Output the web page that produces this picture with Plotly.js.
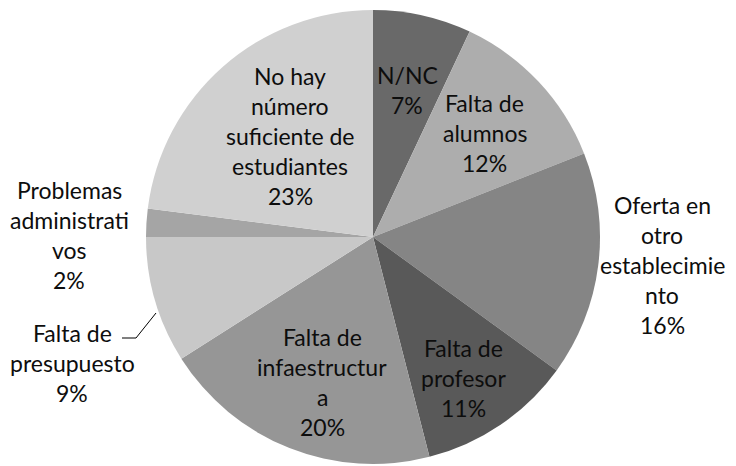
<!DOCTYPE html>
<html><head><meta charset="utf-8">
<script src="https://cdn.plot.ly/plotly-3.0.1.min.js"></script>
<style>html,body{margin:0;padding:0;background:#fff;}#c{width:736px;height:466px;}</style>
</head><body><div id="c"></div>
<script>
// Data
const categories = ["N/NC", "Falta de alumnos", "Oferta en otro establecimiento", "Falta de profesor", "Falta de infaestructura", "Falta de presupuesto", "Problemas administrativos", "No hay número suficiente de estudiantes"];
const values = [7, 12, 16, 11, 20, 9, 2, 23];
// Wrapped label text as in the original
const labelLines = [
  ["N/NC"],
  ["Falta de", "alumnos"],
  ["Oferta en", "otro", "establecimie", "nto"],
  ["Falta de", "profesor"],
  ["Falta de", "infaestructur", "a"],
  ["Falta de", "presupuesto"],
  ["Problemas", "administrati", "vos"],
  ["No hay", "número", "suficiente de", "estudiantes"]
];
const colors = ["#696969", "#adadad", "#858585", "#595959", "#969696", "#c8c8c8", "#a5a5a5", "#d0d0d0"];

// Layout (pixel positions of label blocks: center x, first line y)
const W = 736, H = 466;
const labelPos = [[407, 75], [485, 103], [662, 205], [463, 348], [322, 337], [72, 333], [69, 190], [290, 76]];
const lineGap = 30;
const FONT = "Lato, 'Open Sans', sans-serif";

const total = values.reduce((a, b) => a + b, 0);
const annotations = [];
categories.forEach((c, i) => {
  const lines = labelLines[i].concat([Math.round(values[i] / total * 100) + "%"]);
  lines.forEach((t, k) => {
    annotations.push({
      xref: "paper", yref: "paper",
      x: labelPos[i][0] / W, y: 1 - (labelPos[i][1] + k * lineGap) / H,
      xanchor: "center", yanchor: "middle",
      text: t, showarrow: false,
      font: {family: FONT, size: 23, color: "#0d0d0d"}
    });
  });
});

const cx = 373, cy = 237, r = 227;
const trace = {
  type: "pie",
  labels: categories,
  values: values,
  sort: false,
  direction: "clockwise",
  rotation: 0,
  marker: {colors: colors, line: {width: 0}},
  textinfo: "none",
  hoverinfo: "label+percent",
  domain: {x: [(cx - r) / W, (cx + r) / W], y: [1 - (cy + r) / H, 1 - (cy - r) / H]}
};

const layout = {
  width: W, height: H,
  margin: {l: 0, r: 0, t: 0, b: 0},
  showlegend: false,
  paper_bgcolor: "#fff",
  annotations: annotations,
  shapes: [{
    type: "path", xref: "paper", yref: "paper",
    path: "M " + (122 / W) + "," + (1 - 338 / H) + " L " + (136 / W) + "," + (1 - 338 / H) + " L " + (156 / W) + "," + (1 - 313 / H),
    line: {color: "#000", width: 1}
  }]
};

Plotly.newPlot("c", [trace], layout, {displayModeBar: false, staticPlot: true});
</script></body></html>
